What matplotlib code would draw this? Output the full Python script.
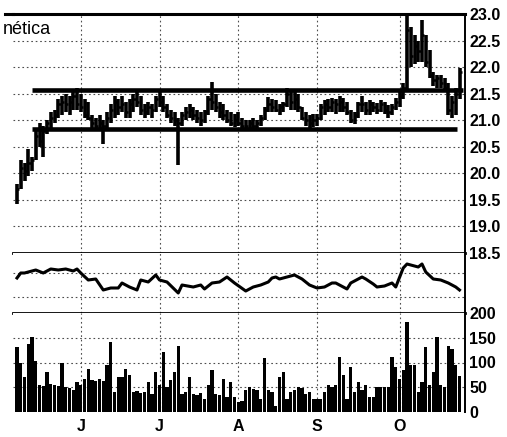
import matplotlib
matplotlib.use("Agg")
import matplotlib.pyplot as plt
from matplotlib.lines import Line2D
import numpy as np

plt.rcParams['font.family'] = ['Liberation Sans', 'DejaVu Sans']

# ---------------- data ----------------
highs = [19.80,20.25,20.20,20.45,20.30,20.85,20.95,20.90,21.00,21.15,
         21.20,21.40,21.45,21.50,21.45,21.55,21.60,21.50,21.40,21.35,
         21.10,21.05,21.10,21.00,21.15,21.30,21.45,21.40,21.45,21.35,
         21.40,21.50,21.53,21.45,21.30,21.35,21.30,21.45,21.57,21.45,
         21.30,21.20,21.15,21.05,21.15,21.25,21.30,21.25,21.20,21.15,
         21.20,21.45,21.72,21.50,21.35,21.30,21.20,21.15,21.12,21.15,
         21.05,21.00,21.00,21.05,21.00,21.10,21.25,21.44,21.40,21.38,
         21.30,21.35,21.60,21.58,21.55,21.50,21.25,21.15,21.10,21.12,
         21.12,21.30,21.38,21.40,21.42,21.40,21.45,21.42,21.35,21.20,
         21.15,21.35,21.45,21.35,21.38,21.35,21.32,21.38,21.35,21.28,
         21.30,21.42,21.55,21.70,22.98,22.76,22.60,22.50,22.88,22.60,
         22.32,21.90,21.85,21.85,21.80,21.70,21.45,21.60,21.98]
lows = [19.42,19.70,19.85,19.95,20.05,20.25,20.50,20.30,20.75,20.85,
        20.95,21.05,21.10,21.15,21.10,21.20,21.20,21.15,21.05,21.00,
        20.85,20.80,20.85,20.55,20.80,20.95,21.05,21.10,21.15,21.05,
        21.05,21.15,21.25,21.10,21.05,21.10,21.05,21.15,21.25,21.15,
        21.05,20.95,20.90,20.15,20.90,21.00,21.05,21.00,20.95,20.90,
        20.95,21.10,21.20,21.15,21.05,21.00,20.95,20.90,20.88,20.90,
        20.85,20.82,20.80,20.85,20.82,20.90,21.00,21.15,21.15,21.15,
        21.10,21.15,21.25,21.20,21.20,21.15,21.00,20.90,20.85,20.88,
        20.90,21.00,21.10,21.15,21.15,21.12,21.15,21.15,21.10,20.95,
        20.92,21.05,21.15,21.10,21.10,21.15,21.12,21.15,21.12,21.05,
        21.10,21.20,21.25,21.40,21.57,22.00,22.05,22.10,22.10,22.00,
        21.80,21.65,21.60,21.60,21.55,21.10,21.05,21.10,21.40]
closes = [19.70,20.10,20.05,20.20,20.25,20.70,20.60,20.80,20.95,21.05,
          21.10,21.30,21.35,21.30,21.35,21.45,21.30,21.25,21.10,21.05,
          20.95,20.90,20.95,20.90,21.05,21.20,21.35,21.25,21.30,21.15,
          21.30,21.40,21.35,21.20,21.15,21.25,21.20,21.40,21.35,21.25,
          21.10,21.05,21.00,20.95,21.10,21.15,21.20,21.10,21.05,21.00,
          21.15,21.40,21.35,21.25,21.15,21.10,21.00,20.95,21.00,20.95,
          20.90,20.90,20.95,20.90,20.95,21.05,21.20,21.30,21.25,21.20,
          21.25,21.30,21.50,21.35,21.40,21.25,21.05,21.00,20.95,21.00,
          21.05,21.25,21.30,21.25,21.35,21.30,21.35,21.25,21.15,21.00,
          21.10,21.30,21.30,21.20,21.30,21.25,21.20,21.30,21.20,21.15,
          21.25,21.35,21.45,21.60,22.70,22.20,22.40,22.30,22.60,22.10,
          21.85,21.75,21.80,21.70,21.60,21.20,21.35,21.50,21.90]
volume = [131,100,70,137,152,104,54,52,80,57,
          54,52,100,50,48,44,60,54,67,87,
          65,62,66,63,94,141,40,70,70,87,
          74,40,42,38,40,60,37,80,54,121,
          50,64,80,134,37,40,70,37,35,38,
          27,54,84,37,35,67,30,60,30,20,
          22,44,50,47,45,27,109,44,40,13,
          70,80,27,40,44,50,48,37,40,27,
          27,27,40,54,50,54,111,74,27,91,
          40,60,44,54,30,30,50,50,50,50,
          111,91,67,84,181,94,94,40,60,131,
          54,80,151,54,50,134,128,94,72]

rs_day = [0,1,2,4,5,7,9,11,13,15,16,17,19,21,23,25,27,28,30,32,33,35,37,38,40,
          43,44,47,49,50,52,54,56,58,61,63,65,67,68,69,70,72,74,76,78,80,82,84,
          85,88,89,92,93,95,96,98,100,101,103,104,107,108,109,111,113,115,117,118]
rs_val = [35,40,40,42,43,40,44,43,44,42,44,40,33,34,23,25,25,30,26,23,33,31,38,33,31,
          20,28,26,28,24,30,31,36,30,22,26,28,31,35,36,34,36,38,34,28,25,26,30,
          30,24,30,36,34,29,26,27,30,26,45,49,46,49,41,34,33,30,26,23]

resistance = 21.57
support = 20.84
res_span = (4, 119)
sup_span = (4, 117.3)

month_days = [17, 38, 59, 80, 102]
month_labels = ['J', 'J', 'A', 'S', 'O']

price_ticks = [18.5, 19.0, 19.5, 20.0, 20.5, 21.0, 21.5, 22.0, 22.5, 23.0]
vol_ticks = [0, 50, 100, 150, 200]

# ---------------- layout ----------------
W, H = 507, 437
fig = plt.figure(figsize=(W/100, H/100), dpi=100)
fig.patch.set_facecolor('white')

def rect(x0, y0, x1, y1):
    return [x0/W, 1 - y1/H, (x1-x0)/W, (y1-y0)/H]

L, R = 13, 465
ax_p = fig.add_axes(rect(L, 14, R, 253))
ax_r = fig.add_axes(rect(L, 253, R, 313))
ax_v = fig.add_axes(rect(L, 313, R, 412))

x0 = (L - 17) / 3.75
x1 = (R - 17) / 3.75
days = np.arange(len(highs))

grid_kw = dict(color='0.3', lw=0.8, linestyle=(0, (1.5, 2.5)))
label_kw = dict(fontsize=11.5, fontweight='bold')

for ax in (ax_p, ax_r, ax_v):
    ax.set_xlim(x0, x1)
    ax.set_facecolor('white')
    ax.spines['left'].set_visible(False)
    ax.spines['right'].set_linewidth(1.4)
    ax.yaxis.tick_right()
    ax.tick_params(axis='y', length=0, pad=3)
    ax.tick_params(axis='x', length=0)
    for d in month_days:
        ax.axvline(d, zorder=0, **grid_kw)

# price panel
ax_p.set_ylim(18.5, 23.0)
for lv in price_ticks[1:-1]:
    ax_p.axhline(lv, zorder=0, **grid_kw)
ax_p.vlines(days, lows, highs, color='k', lw=2.6, zorder=3)
ax_p.hlines(closes, days - 0.1, days + 0.6, color='k', lw=1.8, zorder=3)
ax_p.hlines(resistance, *res_span, color='k', lw=3.3, zorder=4)
ax_p.hlines(support, *sup_span, color='k', lw=3.3, zorder=4)
ax_p.set_yticks(price_ticks)
ax_p.set_yticklabels([f'{t:.1f}' for t in price_ticks], **label_kw)
ax_p.set_xticks([])
ax_p.spines['top'].set_linewidth(2.2)
ax_p.spines['bottom'].set_linewidth(2.0)

# relative strength panel
ax_r.set_ylim(0, 60)
ax_r.axhline(40, zorder=0, **grid_kw)
ax_r.axhline(16, zorder=0, **grid_kw)
ax_r.plot(rs_day, rs_val, color='k', lw=2.2, zorder=3)
ax_r.set_yticks([])
ax_r.set_xticks([])
ax_r.spines['top'].set_visible(False)
ax_r.spines['bottom'].set_linewidth(2.0)

# volume panel
ax_v.set_ylim(0, 200)
for lv in vol_ticks[1:-1]:
    ax_v.axhline(lv, zorder=0, **grid_kw)
ax_v.bar(days, volume, width=0.85, color='k', edgecolor='none', zorder=3)
ax_v.set_yticks(vol_ticks)
ax_v.set_yticklabels([str(t) for t in vol_ticks], **label_kw)
ax_v.set_xticks(month_days)
ax_v.set_xticklabels(month_labels, **label_kw)
ax_v.tick_params(axis='x', pad=5)
ax_v.spines['top'].set_visible(False)
ax_v.spines['bottom'].set_visible(False)

# extension of the top rule and the cut-off title
fig.add_artist(Line2D([5/W, L/W], [1 - 14/H, 1 - 14/H], color='k', lw=2.2))
fig.text(3/W, 1 - 29/H, 'nética', fontsize=13, va='center', ha='left')

fig.savefig('out.png', dpi=100)
